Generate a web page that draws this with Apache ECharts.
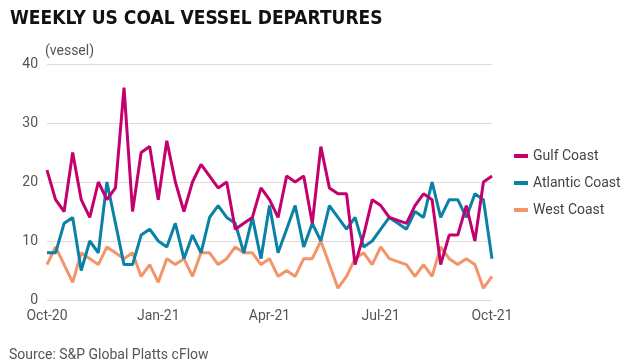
<!DOCTYPE html>
<html>
<head>
<meta charset="utf-8">
<script src="https://cdn.jsdelivr.net/npm/echarts@6/dist/echarts.min.js"></script>
<style>
html,body{margin:0;padding:0;background:#fff;}
#chart{width:630px;height:364px;}
</style>
</head>
<body>
<div id="chart"></div>
<script>
// Weekly data, 53 weeks starting 2020-10-01
var startDate = '2020-10-01';
var weekCount = 53;
var tickLabels = ['Oct-20', 'Jan-21', 'Apr-21', 'Jul-21', 'Oct-21'];
var tickIndex = [0, 13, 26, 39, 52];
var gulfCoast = [22,17,15,25,17,14,20,17,19,36,15,25,26,17,27,20,15,20,23,21,19,20,12,13,14,19,17,
                 14,21,20,21,13,26,19,18,18,6,11,17,16,14,13.5,13,16,18,17,6,11,11,16,10,20,21];
var atlanticCoast = [8,8,13,14,5,10,8,20,13,6,6,11,12,10,9,13,7,11,8,14,16,14,13,8,14,7,16,
                     8,12,16,9,13,10,16,14,12,14,9,10,12,14,13,12,15,14,20,14,17,17,14,18,17,7];
var westCoast = [6,9,6,3,8,7,6,9,8,7,8,4,6,3,7,6,7,4,8,8,6,7,9,8,8,6,7,
                 4,5,4,7,7,10,6,2,4,7,8,6,9,7,6.5,6,4,6,4,9,7,6,7,6,2,4];

var categories = [];
(function(){
  var d = new Date(startDate + 'T00:00:00Z');
  for (var i = 0; i < weekCount; i++) {
    var x = new Date(d.getTime() + i * 7 * 86400000);
    categories.push(x.toISOString().slice(0,10));
  }
})();

var chart = echarts.init(document.getElementById('chart'), null, {renderer:'canvas'});
var labelFont = 'Roboto';
chart.setOption({
  animation: false,
  backgroundColor: '#ffffff',
  title: [{
    text: 'WEEKLY US COAL VESSEL DEPARTURES',
    left: 5, top: 5,
    textStyle: {fontFamily: "'DejaVu Sans Condensed', 'DejaVu Sans', sans-serif", fontWeight: 'bold', fontSize: 19, color: '#111'}
  }, {
    text: 'Source: S&P Global Platts cFlow',
    left: 4, top: 343,
    textStyle: {fontFamily: labelFont, fontWeight: 'normal', fontSize: 14, color: '#555'}
  }],
  legend: {
    orient: 'vertical',
    left: 509, top: 144,
    itemGap: 13,
    itemWidth: 14, itemHeight: 4,
    icon: 'rect',
    textStyle: {fontFamily: labelFont, fontSize: 14, color: '#444'},
    data: ['Gulf Coast', 'Atlantic Coast', 'West Coast']
  },
  grid: {left: 47, right: 138, top: 64, bottom: 64, containLabel: false},
  xAxis: {
    type: 'category',
    data: categories,
    boundaryGap: false,
    axisLine: {show: false},
    axisTick: {show: false},
    splitLine: {show: false},
    axisLabel: {
      interval: function(idx){ return tickIndex.indexOf(idx) >= 0; },
      formatter: function(val, idx){ var k = tickIndex.indexOf(idx); return k >= 0 ? tickLabels[k] : ''; },
      fontFamily: labelFont, fontSize: 14, color: '#555', margin: 9
    }
  },
  yAxis: {
    type: 'value',
    min: 0, max: 40, interval: 10,
    name: '(vessel)',
    nameLocation: 'end',
    nameGap: 6,
    nameTextStyle: {fontFamily: labelFont, fontSize: 14, color: '#555', align: 'left', padding: [0,0,0,-2]},
    axisLine: {show: false},
    axisTick: {show: false},
    splitLine: {lineStyle: {color: '#dcdcdc', width: 1}},
    axisLabel: {fontFamily: labelFont, fontSize: 14, color: '#555', margin: 9}
  },
  series: [
    {name: 'Gulf Coast', type: 'line', data: gulfCoast, symbol: 'none', z: 4,
     lineStyle: {color: '#c4006e', width: 3}, itemStyle: {color: '#c4006e'}},
    {name: 'Atlantic Coast', type: 'line', data: atlanticCoast, symbol: 'none', z: 3,
     lineStyle: {color: '#0a81a6', width: 3}, itemStyle: {color: '#0a81a6'}},
    {name: 'West Coast', type: 'line', data: westCoast, symbol: 'none', z: 2,
     lineStyle: {color: '#f3956a', width: 3}, itemStyle: {color: '#f3956a'}}
  ]
});
</script>
</body>
</html>
